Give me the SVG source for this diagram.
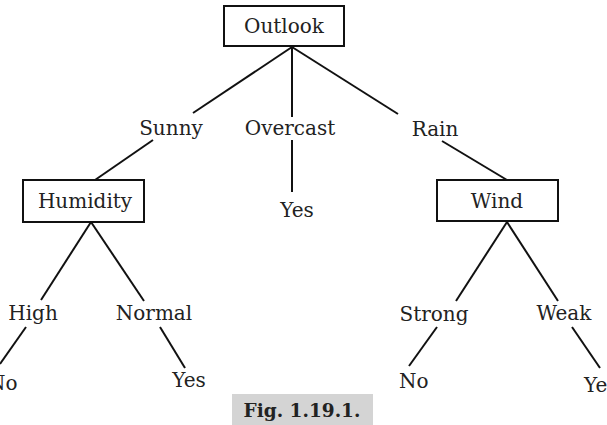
<svg xmlns="http://www.w3.org/2000/svg" width="607" height="425" viewBox="0 0 607 425">
<style>
text{font-family:"DejaVu Serif","Liberation Serif",serif;font-size:20px;fill:#222;}
.m{text-anchor:middle;}
.box{fill:#fff;stroke:#111;stroke-width:2;}
.c line{stroke:#111;stroke-width:2;}
</style>
<rect width="607" height="425" fill="#fff"/>
<g class="c" id="connectors">
<line x1="292" y1="47" x2="193" y2="113"/>
<line x1="292" y1="47" x2="292" y2="117"/>
<line x1="292" y1="47" x2="398" y2="114"/>
<line x1="153" y1="140" x2="95" y2="180"/>
<line x1="292" y1="140" x2="292" y2="192"/>
<line x1="442" y1="141" x2="507" y2="180"/>
<line x1="91" y1="222" x2="41" y2="300"/>
<line x1="91" y1="222" x2="144" y2="301"/>
<line x1="26" y1="327" x2="0" y2="364"/>
<line x1="160" y1="327" x2="185" y2="368"/>
<line x1="507" y1="222" x2="456" y2="301"/>
<line x1="507" y1="222" x2="558" y2="301"/>
<line x1="437" y1="327" x2="409" y2="366"/>
<line x1="572" y1="327" x2="600" y2="368"/>
</g>
<g id="outlook"><rect class="box" x="224" y="6" width="120" height="40"/><text class="m" x="284" y="33">Outlook</text></g>
<g id="sunny"><text class="m" x="171" y="135">Sunny</text></g>
<g id="overcast"><text class="m" x="290" y="135">Overcast</text></g>
<g id="rain"><text class="m" x="435" y="136">Rain</text></g>
<g id="humidity"><rect class="box" x="23" y="180" width="121" height="42"/><text class="m" x="85" y="208">Humidity</text></g>
<g id="yes1"><text class="m" x="297" y="217">Yes</text></g>
<g id="wind"><rect class="box" x="437" y="180" width="121" height="41"/><text class="m" x="497" y="208">Wind</text></g>
<g id="high"><text class="m" x="33" y="320">High</text></g>
<g id="normal"><text class="m" x="154" y="320">Normal</text></g>
<g id="strong"><text class="m" x="434" y="321">Strong</text></g>
<g id="weak"><text class="m" x="564" y="320">Weak</text></g>
<g id="no1"><text x="-12" y="390">No</text></g>
<g id="yes2"><text class="m" x="189" y="387">Yes</text></g>
<g id="no2"><text x="399" y="388">No</text></g>
<g id="yes3"><text x="584" y="392">Yes</text></g>
<g id="caption"><rect x="232" y="394" width="141" height="31" fill="#d4d4d4"/><text class="m" x="302" y="417" style="font-weight:bold;font-size:18.5px">Fig. 1.19.1.</text></g>
</svg>
